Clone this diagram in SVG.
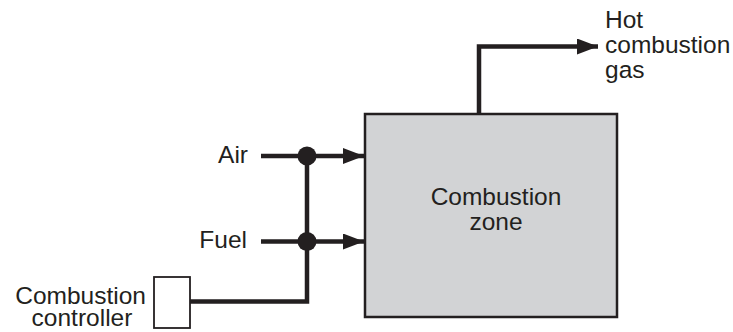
<svg xmlns="http://www.w3.org/2000/svg" width="733" height="332" viewBox="0 0 733 332">
<defs>
<style>
.t{font-family:"Liberation Sans",Arial,sans-serif;font-size:24.5px;fill:#231f20}
.s{font-size:23.5px}
.w{fill:none;stroke:#231f20;stroke-width:4.5}
</style>
<marker id="ah" markerUnits="userSpaceOnUse" markerWidth="22" markerHeight="16" refX="21" refY="8" orient="auto">
<path d="M0,0 L21,8 L0,16 Z" fill="#231f20"/>
</marker>
</defs>
<rect width="733" height="332" fill="#fff"/>
<g id="connectors">
<path class="w" d="M261,156 H364" marker-end="url(#ah)"/>
<path class="w" d="M261,241.5 H364" marker-end="url(#ah)"/>
<path class="w" d="M190,301.5 H307 V156"/>
<circle cx="307" cy="156" r="9.5" fill="#231f20"/>
<circle cx="307" cy="241.5" r="9.5" fill="#231f20"/>
<path class="w" d="M479,114 V46.5 H598" marker-end="url(#ah)"/>
</g>
<g id="zone">
<rect x="365" y="114" width="252" height="203" fill="#d2d3d5" stroke="#231f20" stroke-width="2.5"/>
<text class="t" x="496" y="205" text-anchor="middle">Combustion</text>
<text class="t" x="496" y="230" text-anchor="middle">zone</text>
</g>
<g id="controller">
<rect x="154" y="277" width="36" height="51" fill="#fff" stroke="#231f20" stroke-width="1.8"/>
<text class="t" x="146" y="304" text-anchor="end">Combustion</text>
<text class="t" x="82" y="326" text-anchor="middle">controller</text>
</g>
<g id="air"><text class="t" x="248" y="163" text-anchor="end">Air</text></g>
<g id="fuel"><text class="t" x="247" y="248" text-anchor="end">Fuel</text></g>
<g id="gas">
<text class="t" x="605" y="28">Hot</text>
<text class="t" x="605" y="53">combustion</text>
<text class="t" x="605" y="78">gas</text>
</g>
</svg>
